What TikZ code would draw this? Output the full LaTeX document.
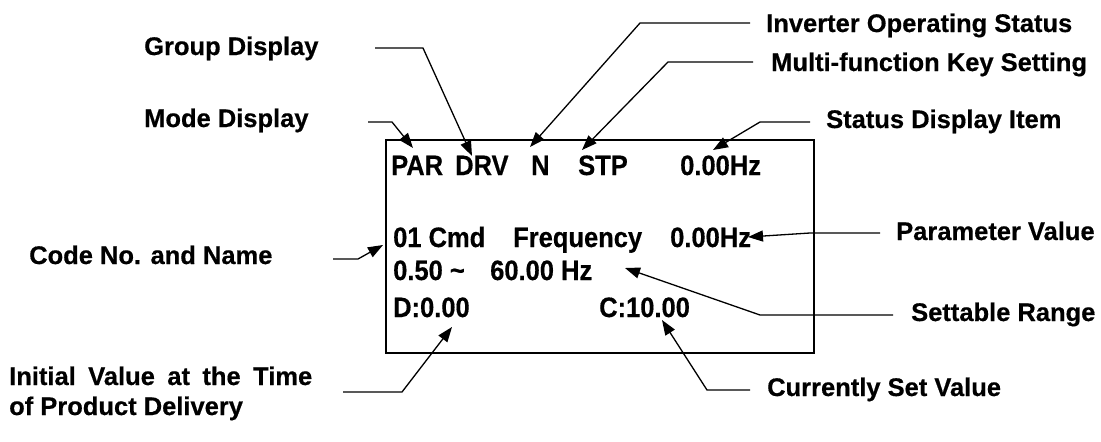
\documentclass[tikz,border=0pt]{standalone}
\usepackage{fontspec}
\usepackage{graphicx}
\setmainfont{Liberation Sans}[BoldFeatures={FakeBold=0.5}]
\usetikzlibrary{arrows.meta}
\newcommand{\tallbox}[1]{\scalebox{1}[1.1]{#1}}
\begin{document}
\begin{tikzpicture}[x=1pt,y=-1pt,
  lbl/.style={inner sep=0pt, anchor=base west, font=\fontsize{25.5}{30}\selectfont\bfseries},
  lcdtxt/.style={inner sep=0pt, anchor=base west, font=\fontsize{25.5}{30}\selectfont\bfseries},
  ptr/.style={line width=1.3pt, line join=miter, -{Triangle[length=15pt,width=11pt]}},
  screen/.style={draw, line width=2pt, inner sep=0pt, minimum width=428pt, minimum height=213pt}
]
\useasboundingbox (0,0) rectangle (1101,442);

% display frame
\node[screen] (lcd) at (600,246.5) {};

% display texts
\node[lcdtxt] (par) at (391,175) {\tallbox{PAR}};
\node[lcdtxt] (drv) at (455,175) {\tallbox{DRV}};
\node[lcdtxt] (nn) at (531,175) {\tallbox{N}};
\node[lcdtxt] (stp) at (578,175) {\tallbox{STP}};
\node[lcdtxt] (hz1) at (680,175) {\tallbox{0.00Hz}};
\node[lcdtxt] (cmd) at (393,247) {\tallbox{01 Cmd}};
\node[lcdtxt] (freq) at (513,247) {\tallbox{Frequency}};
\node[lcdtxt] (hz2) at (670,247) {\tallbox{0.00Hz}};
\node[lcdtxt] (rlo) at (393,280) {\tallbox{0.50 \char`~}};
\node[lcdtxt] (rhi) at (490,280) {\tallbox{60.00 Hz}};
\node[lcdtxt] (dval) at (393,317) {\tallbox{D:0.00}};
\node[lcdtxt] (cval) at (599,317) {\tallbox{C:10.00}};

% labels
\node[lbl] (grp) at (144,55) {Group Display};
\node[lbl] (mode) at (144,127) {Mode Display};
\node[lbl] (code) at (29,264) {Code No. and Name};
\node[lbl] (init1) at (9,385) {\makebox[303pt][s]{Initial Value at the Time}};
\node[lbl] (init2) at (9,415) {of Product Delivery};
\node[lbl] (inv) at (766,32) {Inverter Operating Status};
\node[lbl] (mfk) at (771,71) {Multi-function Key Setting};
\node[lbl] (sdi) at (826,128) {Status Display Item};
\node[lbl] (pv) at (896,240) {Parameter Value};
\node[lbl] (sr) at (911,321) {Settable Range};
\node[lbl] (csv) at (767,396) {Currently Set Value};

% connector points
\coordinate (grpA) at (375,48);  \coordinate (grpB) at (423,48);  \coordinate (grpT) at (472,156);
\coordinate (modA) at (368,122); \coordinate (modB) at (392,122); \coordinate (modT) at (413,148);
\coordinate (invA) at (750,23);  \coordinate (invB) at (640,23);  \coordinate (invT) at (530,147);
\coordinate (mfkA) at (753,62);  \coordinate (mfkB) at (668,62);  \coordinate (mfkT) at (582,150);
\coordinate (sdiA) at (810,122); \coordinate (sdiB) at (760,122); \coordinate (sdiT) at (713,150);
\coordinate (codA) at (333,259); \coordinate (codB) at (358,259); \coordinate (codT) at (383,245);
\coordinate (pvA) at (880,233);  \coordinate (pvB) at (810,233);  \coordinate (pvT) at (748,237);
\coordinate (srA) at (893,315);  \coordinate (srB) at (760,315);  \coordinate (srT) at (625,268);
\coordinate (csvA) at (750,390); \coordinate (csvB) at (707,390); \coordinate (csvT) at (662,320);
\coordinate (iniA) at (343,392); \coordinate (iniB) at (402,392); \coordinate (iniT) at (452,327);

\draw[ptr] (grpA) -- (grpB) -- (grpT);
\draw[ptr] (modA) -- (modB) -- (modT);
\draw[ptr] (invA) -- (invB) -- (invT);
\draw[ptr] (mfkA) -- (mfkB) -- (mfkT);
\draw[ptr] (sdiA) -- (sdiB) -- (sdiT);
\draw[ptr] (codA) -- (codB) -- (codT);
\draw[ptr] (pvA) -- (pvB) -- (pvT);
\draw[ptr] (srA) -- (srB) -- (srT);
\draw[ptr] (csvA) -- (csvB) -- (csvT);
\draw[ptr] (iniA) -- (iniB) -- (iniT);
\end{tikzpicture}
\end{document}
